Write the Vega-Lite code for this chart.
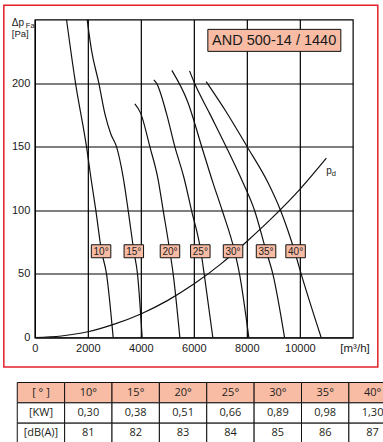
{
  "$schema": "https://vega.github.io/schema/vega-lite/v6.json",
  "padding": {"left": 2, "top": 3.5, "right": 0, "bottom": 0},
  "background": "white",
  "center": true,
  "spacing": 13,
  "config": {"view": {"stroke": "#000", "strokeWidth": 1.2}, "font": "Liberation Sans"},
  "datasets": {
    "curves": [
      {"curve": "10°", "q": 1195, "p": 250}, {"curve": "10°", "q": 1535, "p": 200}, {"curve": "10°", "q": 1950, "p": 150}, {"curve": "10°", "q": 2113, "p": 126}, {"curve": "10°", "q": 2302, "p": 100}, {"curve": "10°", "q": 2516, "p": 68}, {"curve": "10°", "q": 2705, "p": 50}, {"curve": "10°", "q": 2956, "p": 0},
      {"curve": "15°", "q": 1974, "p": 250}, {"curve": "15°", "q": 2138, "p": 226}, {"curve": "15°", "q": 2415, "p": 200}, {"curve": "15°", "q": 2642, "p": 176}, {"curve": "15°", "q": 2868, "p": 160}, {"curve": "15°", "q": 3082, "p": 150}, {"curve": "15°", "q": 3333, "p": 126}, {"curve": "15°", "q": 3522, "p": 100}, {"curve": "15°", "q": 3736, "p": 68}, {"curve": "15°", "q": 3874, "p": 50}, {"curve": "15°", "q": 4050, "p": 0},
      {"curve": "20°", "q": 3774, "p": 183.6}, {"curve": "20°", "q": 4000, "p": 176}, {"curve": "20°", "q": 4340, "p": 150}, {"curve": "20°", "q": 4654, "p": 124}, {"curve": "20°", "q": 4843, "p": 100}, {"curve": "20°", "q": 5094, "p": 68}, {"curve": "20°", "q": 5220, "p": 50}, {"curve": "20°", "q": 5472, "p": 0},
      {"curve": "25°", "q": 4491, "p": 202.5}, {"curve": "25°", "q": 4591, "p": 200}, {"curve": "25°", "q": 4969, "p": 176}, {"curve": "25°", "q": 5283, "p": 150}, {"curve": "25°", "q": 5623, "p": 126}, {"curve": "25°", "q": 5912, "p": 100}, {"curve": "25°", "q": 6264, "p": 68}, {"curve": "25°", "q": 6390, "p": 50}, {"curve": "25°", "q": 6717, "p": 0},
      {"curve": "30°", "q": 5170, "p": 210}, {"curve": "30°", "q": 5774, "p": 185}, {"curve": "30°", "q": 6298, "p": 150}, {"curve": "30°", "q": 6717, "p": 122}, {"curve": "30°", "q": 7068, "p": 100}, {"curve": "30°", "q": 7535, "p": 68}, {"curve": "30°", "q": 7723, "p": 50}, {"curve": "30°", "q": 8075, "p": 0},
      {"curve": "35°", "q": 5838, "p": 209.6}, {"curve": "35°", "q": 6025, "p": 200}, {"curve": "35°", "q": 6600, "p": 176}, {"curve": "35°", "q": 7219, "p": 150}, {"curve": "35°", "q": 7849, "p": 122}, {"curve": "35°", "q": 8289, "p": 100}, {"curve": "35°", "q": 8729, "p": 68}, {"curve": "35°", "q": 8981, "p": 50}, {"curve": "35°", "q": 9423, "p": 0},
      {"curve": "40°", "q": 6465, "p": 201.2}, {"curve": "40°", "q": 7219, "p": 177.5}, {"curve": "40°", "q": 8012, "p": 150}, {"curve": "40°", "q": 8792, "p": 122}, {"curve": "40°", "q": 9270, "p": 100}, {"curve": "40°", "q": 9799, "p": 68}, {"curve": "40°", "q": 10050, "p": 50}, {"curve": "40°", "q": 10805, "p": 0},
      {"curve": "pd", "q": 0, "p": 0}, {"curve": "pd", "q": 1000, "p": 1.2}, {"curve": "pd", "q": 2000, "p": 4.5}, {"curve": "pd", "q": 3000, "p": 10.5}, {"curve": "pd", "q": 4000, "p": 18.5}, {"curve": "pd", "q": 5000, "p": 29}, {"curve": "pd", "q": 6000, "p": 42}, {"curve": "pd", "q": 7000, "p": 57.5}, {"curve": "pd", "q": 8000, "p": 75.5}, {"curve": "pd", "q": 9000, "p": 95}, {"curve": "pd", "q": 10000, "p": 116.5}, {"curve": "pd", "q": 11000, "p": 141}
    ],
    "labels": [
      {"label": "10°", "q": 2500, "p": 67.8}, {"label": "15°", "q": 3735, "p": 67.8}, {"label": "20°", "q": 5100, "p": 67.8}, {"label": "25°", "q": 6245, "p": 67.8}, {"label": "30°", "q": 7480, "p": 67.8}, {"label": "35°", "q": 8725, "p": 67.8}, {"label": "40°", "q": 9840, "p": 67.8}
    ],
    "table": [
      {"col": "unit", "row": "h", "v": "[ ° ]"}, {"col": "unit", "row": "kw", "v": "[KW]"}, {"col": "unit", "row": "db", "v": "[dB(A)]"},
      {"col": "10°", "row": "h", "v": "10°"}, {"col": "15°", "row": "h", "v": "15°"}, {"col": "20°", "row": "h", "v": "20°"}, {"col": "25°", "row": "h", "v": "25°"}, {"col": "30°", "row": "h", "v": "30°"}, {"col": "35°", "row": "h", "v": "35°"}, {"col": "40°", "row": "h", "v": "40°"},
      {"col": "10°", "row": "kw", "v": "0,30"}, {"col": "15°", "row": "kw", "v": "0,38"}, {"col": "20°", "row": "kw", "v": "0,51"}, {"col": "25°", "row": "kw", "v": "0,66"}, {"col": "30°", "row": "kw", "v": "0,89"}, {"col": "35°", "row": "kw", "v": "0,98"}, {"col": "40°", "row": "kw", "v": "1,30"},
      {"col": "10°", "row": "db", "v": "81"}, {"col": "15°", "row": "db", "v": "82"}, {"col": "20°", "row": "db", "v": "83"}, {"col": "25°", "row": "db", "v": "84"}, {"col": "30°", "row": "db", "v": "85"}, {"col": "35°", "row": "db", "v": "86"}, {"col": "40°", "row": "db", "v": "87"}
    ]
  },
  "vconcat": [
    {
      "width": 318,
      "height": 318,
      "layer": [
        {
          "data": {"values": [{}]},
          "mark": {"type": "rect", "filled": false, "fill": null, "stroke": "#e3202a", "strokeWidth": 1.5, "clip": false},
          "encoding": {
            "x": {"datum": -1170, "type": "quantitative", "scale": {"domain": [0, 12000], "nice": false}},
            "x2": {"datum": 12943},
            "y": {"datum": 261.2, "type": "quantitative", "scale": {"domain": [0, 250], "nice": false}},
            "y2": {"datum": -23.1}
          }
        },
        {
          "data": {"name": "curves"},
          "mark": {"type": "line", "color": "#111", "strokeWidth": 1.2, "interpolate": "monotone", "clip": true},
          "encoding": {
            "x": {"field": "q", "type": "quantitative", "title": "[m³/h]", "scale": {"domain": [0, 12000], "nice": false},
              "axis": {"values": [0, 2000, 4000, 6000, 8000, 10000], "format": "d", "grid": true, "gridColor": "#000", "gridOpacity": 1, "gridWidth": 1.2, "ticks": false, "tickSize": 0, "domain": false, "labelPadding": 5, "labelFlush": false, "labelOverlap": false, "labelFontSize": 11, "labelColor": "#1a1a1a", "labelFont": "Liberation Sans", "titleFont": "Liberation Sans", "titleFontSize": 11.5, "titleFontWeight": "normal", "titleColor": "#1a1a1a", "titleX": 305, "titleY": 4.5, "titleAlign": "left", "titleBaseline": "top"}},
            "y": {"field": "p", "type": "quantitative", "title": null, "scale": {"domain": [0, 250], "nice": false},
              "axis": {"values": [0, 50, 100, 150, 200], "format": "d", "grid": true, "gridColor": "#000", "gridOpacity": 1, "gridWidth": 1.2, "ticks": false, "tickSize": 0, "domain": false, "labelPadding": 5, "labelFlush": false, "labelOverlap": false, "labelFontSize": 11, "labelColor": "#1a1a1a", "labelFont": "Liberation Sans"}},
            "detail": {"field": "curve", "type": "nominal"}
          }
        },
        {
          "data": {"name": "labels"},
          "mark": {"type": "point", "shape": "M-1,-0.667H1V0.667H-1Z", "size": 380, "filled": true, "fill": "#F8BBA4", "stroke": "#111", "strokeWidth": 1, "opacity": 1},
          "encoding": {
            "x": {"field": "q", "type": "quantitative", "title": "[m³/h]", "scale": {"domain": [0, 12000], "nice": false}},
            "y": {"field": "p", "type": "quantitative", "title": null, "scale": {"domain": [0, 250], "nice": false}}
          }
        },
        {
          "data": {"name": "labels"},
          "mark": {"type": "text", "font": "Liberation Sans", "fontSize": 10, "color": "#222", "baseline": "middle", "align": "center", "dy": 0.5},
          "encoding": {
            "x": {"field": "q", "type": "quantitative", "title": "[m³/h]", "scale": {"domain": [0, 12000], "nice": false}},
            "y": {"field": "p", "type": "quantitative", "title": null, "scale": {"domain": [0, 250], "nice": false}},
            "text": {"field": "label"}
          }
        },
        {
          "data": {"values": [{}]},
          "mark": {"type": "point", "shape": "M-1,-0.1654H1V0.1654H-1Z", "size": 17689, "filled": true, "fill": "#F8BBA4", "stroke": "#111", "strokeWidth": 1, "opacity": 1},
          "encoding": {
            "x": {"datum": 9038, "type": "quantitative", "scale": {"domain": [0, 12000], "nice": false}},
            "y": {"datum": 233.6, "type": "quantitative", "scale": {"domain": [0, 250], "nice": false}}
          }
        },
        {
          "data": {"values": [{}]},
          "mark": {"type": "text", "text": "AND 500-14 / 1440", "font": "Liberation Sans", "fontSize": 14.5, "color": "#1a1a1a", "align": "center", "baseline": "middle", "dy": 0.5},
          "encoding": {
            "x": {"datum": 9030, "type": "quantitative", "scale": {"domain": [0, 12000], "nice": false}},
            "y": {"datum": 233.6, "type": "quantitative", "scale": {"domain": [0, 250], "nice": false}}
          }
        },
        {
          "data": {"values": [{}]},
          "mark": {"type": "text", "text": "p", "font": "Liberation Sans", "fontSize": 10, "color": "#1a1a1a", "align": "left", "baseline": "alphabetic"},
          "encoding": {
            "x": {"datum": 10993, "type": "quantitative", "scale": {"domain": [0, 12000], "nice": false}},
            "y": {"datum": 128.5, "type": "quantitative", "scale": {"domain": [0, 250], "nice": false}}
          }
        },
        {
          "data": {"values": [{}]},
          "mark": {"type": "text", "text": "d", "font": "Liberation Sans", "fontSize": 7.5, "color": "#1a1a1a", "align": "left", "baseline": "alphabetic"},
          "encoding": {
            "x": {"datum": 11200, "type": "quantitative", "scale": {"domain": [0, 12000], "nice": false}},
            "y": {"datum": 126.9, "type": "quantitative", "scale": {"domain": [0, 250], "nice": false}}
          }
        },
        {
          "data": {"values": [{}]},
          "mark": {"type": "text", "text": "Δp", "font": "Liberation Sans", "fontSize": 10, "color": "#1a1a1a", "align": "left", "baseline": "alphabetic", "clip": false},
          "encoding": {
            "x": {"datum": -868, "type": "quantitative", "scale": {"domain": [0, 12000], "nice": false}},
            "y": {"datum": 244.6, "type": "quantitative", "scale": {"domain": [0, 250], "nice": false}}
          }
        },
        {
          "data": {"values": [{}]},
          "mark": {"type": "text", "text": "Fa", "font": "Liberation Sans", "fontSize": 7.5, "color": "#1a1a1a", "align": "left", "baseline": "alphabetic", "clip": false},
          "encoding": {
            "x": {"datum": -340, "type": "quantitative", "scale": {"domain": [0, 12000], "nice": false}},
            "y": {"datum": 243.4, "type": "quantitative", "scale": {"domain": [0, 250], "nice": false}}
          }
        },
        {
          "data": {"values": [{}]},
          "mark": {"type": "text", "text": "[Pa]", "font": "Liberation Sans", "fontSize": 9.5, "color": "#1a1a1a", "align": "left", "baseline": "alphabetic", "clip": false},
          "encoding": {
            "x": {"datum": -868, "type": "quantitative", "scale": {"domain": [0, 12000], "nice": false}},
            "y": {"datum": 236.0, "type": "quantitative", "scale": {"domain": [0, 250], "nice": false}}
          }
        }
      ]
    },
    {
      "width": 379,
      "height": 61,
      "view": {"stroke": null},
      "data": {"name": "table"},
      "layer": [
        {
          "mark": {"type": "rect", "stroke": "#111", "strokeWidth": 1},
          "encoding": {
            "x": {"field": "col", "type": "nominal", "sort": ["unit", "10°", "15°", "20°", "25°", "30°", "35°", "40°"], "axis": null},
            "y": {"field": "row", "type": "nominal", "sort": ["h", "kw", "db"], "axis": null},
            "color": {"condition": {"test": "datum.row === 'h'", "value": "#F8BBA4"}, "value": "#ffffff"}
          }
        },
        {
          "mark": {"type": "text", "font": "Open Sans", "fontSize": 11, "color": "#231f20", "baseline": "middle", "align": "center"},
          "encoding": {
            "x": {"field": "col", "type": "nominal", "sort": ["unit", "10°", "15°", "20°", "25°", "30°", "35°", "40°"], "axis": null},
            "y": {"field": "row", "type": "nominal", "sort": ["h", "kw", "db"], "axis": null},
            "text": {"field": "v"}
          }
        }
      ]
    }
  ]
}
